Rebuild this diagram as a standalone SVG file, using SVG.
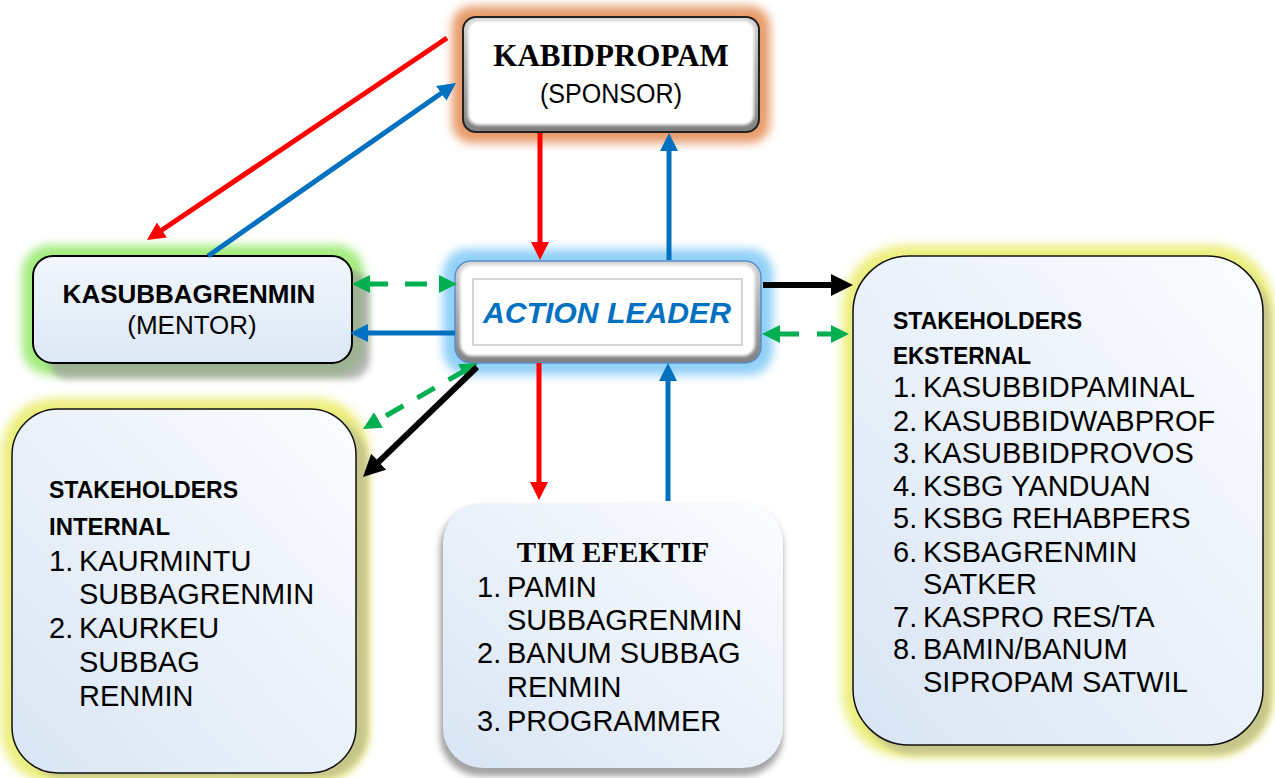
<svg xmlns="http://www.w3.org/2000/svg" width="1275" height="778" viewBox="0 0 1275 778">
<defs>
<style>
.bold-serif{font-family:"Liberation Serif","Times New Roman",serif;font-weight:bold;fill:#000}
.sans{font-family:"Liberation Sans",Arial,sans-serif;fill:#000}
.hb{font-family:"Liberation Sans",Arial,sans-serif;font-weight:bold;fill:#000;font-size:24px}
.item{font-family:"Liberation Sans",Arial,sans-serif;fill:#000;font-size:29px}
.red{stroke:#FF0000;stroke-width:5;fill:none}
.blue{stroke:#0070C0;stroke-width:5;fill:none}
.green{stroke:#00B050;stroke-width:5;fill:none}
.black{stroke:#000;stroke-width:6;fill:none}
</style>
<linearGradient id="boxGrad" x1="1" y1="0" x2="0" y2="1">
<stop offset="0" stop-color="#FBFDFF"/>
<stop offset="1" stop-color="#D9E5F4"/>
</linearGradient>
<linearGradient id="mentorGrad" x1="0" y1="0" x2="0" y2="1">
<stop offset="0" stop-color="#F1F6FC"/>
<stop offset="1" stop-color="#DCE8F6"/>
</linearGradient>
<linearGradient id="bevelGrad" x1="0" y1="0" x2="0" y2="1">
<stop offset="0" stop-color="#d6d6d6"/>
<stop offset="1" stop-color="#808080"/>
</linearGradient>
<filter id="blur5" x="-20%" y="-20%" width="140%" height="140%"><feGaussianBlur stdDeviation="5"/></filter>
<filter id="blur3" x="-20%" y="-20%" width="140%" height="140%"><feGaussianBlur stdDeviation="3"/></filter>
<filter id="blur15" x="-10%" y="-10%" width="120%" height="120%"><feGaussianBlur stdDeviation="1.5"/></filter>
<marker id="arRed" markerUnits="userSpaceOnUse" markerWidth="18" markerHeight="18" refX="4" refY="9" orient="auto"><path d="M0,0 L18,9 L0,18 Z" fill="#FF0000"/></marker>
<marker id="arBlue" markerUnits="userSpaceOnUse" markerWidth="18" markerHeight="18" refX="4" refY="9" orient="auto"><path d="M0,0 L18,9 L0,18 Z" fill="#0070C0"/></marker>
<marker id="arGreen" markerUnits="userSpaceOnUse" markerWidth="18" markerHeight="18" refX="4" refY="9" orient="auto-start-reverse"><path d="M0,0 L18,9 L0,18 Z" fill="#00B050"/></marker>
<marker id="arBlack" markerUnits="userSpaceOnUse" markerWidth="22" markerHeight="22" refX="6" refY="11" orient="auto"><path d="M0,0 L22,11 L0,22 Z" fill="#000"/></marker>
</defs>
<rect width="1275" height="778" fill="#fff"/>

<g id="kabidpropam">
<rect x="452" y="6" width="318" height="137" rx="20" fill="#E89C6C" filter="url(#blur5)"/>
<rect x="463" y="17" width="296" height="115" rx="13" fill="url(#bevelGrad)" stroke="#222" stroke-width="2"/>
<rect x="468" y="21" width="286" height="104" rx="10" fill="#fff" filter="url(#blur15)"/>
<text class="bold-serif" x="611" y="66" font-size="31" text-anchor="middle">KABIDPROPAM</text>
<text class="sans" x="611" y="103" font-size="27" text-anchor="middle" textLength="142" lengthAdjust="spacingAndGlyphs">(SPONSOR)</text>
</g>

<g id="kasubbagrenmin">
<rect x="22" y="245" width="342" height="130" rx="28" fill="#A4EC7E" filter="url(#blur5)"/>
<rect x="48" y="271" width="322" height="108" rx="20" fill="#9a9a9a" opacity="0.7" filter="url(#blur3)"/>
<rect x="33" y="256" width="319" height="107" rx="20" fill="url(#mentorGrad)" stroke="#000" stroke-width="2"/>
<text class="sans" x="189" y="303" font-size="26" font-weight="bold" text-anchor="middle">KASUBBAGRENMIN</text>
<text class="sans" x="192" y="334" font-size="26" text-anchor="middle">(MENTOR)</text>
</g>

<g id="action-leader">
<rect x="443" y="249" width="330" height="126" rx="24" fill="#92D0F8" filter="url(#blur5)"/>
<rect x="455" y="261" width="306" height="102" rx="16" fill="url(#bevelGrad)" stroke="#5B8FC9" stroke-width="1.5"/>
<rect x="460" y="265" width="295" height="91" rx="12" fill="#fff" filter="url(#blur15)"/>
<rect x="473" y="279" width="269" height="66" fill="none" stroke="#c8c8c8" stroke-width="1.5"/>
<text x="483" y="323" font-family="'Liberation Sans',Arial,sans-serif" font-weight="bold" font-style="italic" font-size="29" fill="#0070C0" textLength="248" lengthAdjust="spacingAndGlyphs">ACTION LEADER</text>
</g>

<g id="stakeholders-internal">
<rect x="1" y="398" width="368" height="386" rx="54" fill="#EDEF80" filter="url(#blur5)"/>
<rect x="20" y="416" width="348" height="362" rx="46" fill="#BDBC8E" opacity="0.8" filter="url(#blur3)"/>
<rect x="12" y="409" width="344" height="364" rx="46" fill="url(#boxGrad)" stroke="#111" stroke-width="1.5"/>
<text class="hb" x="49" y="498" textLength="189" lengthAdjust="spacingAndGlyphs">STAKEHOLDERS</text>
<text class="hb" x="49" y="535" textLength="121" lengthAdjust="spacingAndGlyphs">INTERNAL</text>
<text class="item" y="571"><tspan x="49">1.</tspan><tspan x="79">KAURMINTU</tspan></text>
<text class="item" x="79" y="604">SUBBAGRENMIN</text>
<text class="item" y="638"><tspan x="49">2.</tspan><tspan x="79">KAURKEU</tspan></text>
<text class="item" x="79" y="672">SUBBAG</text>
<text class="item" x="79" y="706">RENMIN</text>
</g>

<g id="tim-efektif">
<rect x="440" y="508" width="343" height="268" rx="40" fill="#8c8c8c" opacity="0.8" filter="url(#blur3)"/>
<rect x="443" y="503" width="340" height="265" rx="40" fill="url(#boxGrad)"/>
<text class="bold-serif" x="613" y="562" font-size="29" text-anchor="middle">TIM EFEKTIF</text>
<text class="item" y="597"><tspan x="477">1.</tspan><tspan x="507">PAMIN</tspan></text>
<text class="item" x="507" y="630">SUBBAGRENMIN</text>
<text class="item" y="663"><tspan x="477">2.</tspan><tspan x="507">BANUM SUBBAG</tspan></text>
<text class="item" x="507" y="697">RENMIN</text>
<text class="item" y="731"><tspan x="477">3.</tspan><tspan x="507">PROGRAMMER</tspan></text>
</g>

<g id="stakeholders-eksternal">
<rect x="842" y="245" width="432" height="512" rx="64" fill="#EDEF80" filter="url(#blur5)"/>
<rect x="861" y="264" width="410" height="491" rx="56" fill="#BDBC8E" opacity="0.8" filter="url(#blur3)"/>
<rect x="853" y="256" width="410" height="489" rx="56" fill="url(#boxGrad)" stroke="#111" stroke-width="1.5"/>
<text class="hb" x="893" y="329" textLength="189" lengthAdjust="spacingAndGlyphs">STAKEHOLDERS</text>
<text class="hb" x="893" y="364" textLength="138" lengthAdjust="spacingAndGlyphs">EKSTERNAL</text>
<text class="item" y="397"><tspan x="893">1.</tspan><tspan x="923">KASUBBIDPAMINAL</tspan></text>
<text class="item" y="431"><tspan x="893">2.</tspan><tspan x="923">KASUBBIDWABPROF</tspan></text>
<text class="item" y="463"><tspan x="893">3.</tspan><tspan x="923">KASUBBIDPROVOS</tspan></text>
<text class="item" y="496"><tspan x="893">4.</tspan><tspan x="923">KSBG YANDUAN</tspan></text>
<text class="item" y="528"><tspan x="893">5.</tspan><tspan x="923">KSBG REHABPERS</tspan></text>
<text class="item" y="562"><tspan x="893">6.</tspan><tspan x="923">KSBAGRENMIN</tspan></text>
<text class="item" x="923" y="594">SATKER</text>
<text class="item" y="627"><tspan x="893">7.</tspan><tspan x="923">KASPRO RES/TA</tspan></text>
<text class="item" y="659"><tspan x="893">8.</tspan><tspan x="923">BAMIN/BANUM</tspan></text>
<text class="item" x="923" y="692">SIPROPAM SATWIL</text>
</g>

<g id="connectors">
<line class="red" x1="447" y1="38" x2="158.6" y2="232.2" marker-end="url(#arRed)"/>
<line class="blue" x1="208" y1="256" x2="444.5" y2="91" marker-end="url(#arBlue)"/>
<line class="red" x1="540" y1="133" x2="540" y2="246" marker-end="url(#arRed)"/>
<line class="blue" x1="669" y1="260" x2="669" y2="147" marker-end="url(#arBlue)"/>
<line class="red" x1="539" y1="363" x2="539" y2="486" marker-end="url(#arRed)"/>
<line class="blue" x1="668" y1="501" x2="668" y2="377" marker-end="url(#arBlue)"/>
<line class="blue" x1="455" y1="333" x2="364" y2="333" marker-end="url(#arBlue)"/>
<line class="green" x1="366" y1="284" x2="443" y2="284" stroke-dasharray="22 17" marker-start="url(#arGreen)" marker-end="url(#arGreen)"/>
<line class="green" x1="776" y1="334" x2="835" y2="334" stroke-dasharray="23 18" marker-start="url(#arGreen)" marker-end="url(#arGreen)"/>
<line class="green" x1="465.9" y1="370" x2="375.1" y2="422" stroke-dasharray="20 16" marker-start="url(#arGreen)" marker-end="url(#arGreen)"/>
<line class="black" x1="477" y1="367" x2="374.5" y2="465.9" marker-end="url(#arBlack)"/>
<line class="black" x1="763" y1="285" x2="837" y2="285" marker-end="url(#arBlack)"/>
</g>
</svg>
